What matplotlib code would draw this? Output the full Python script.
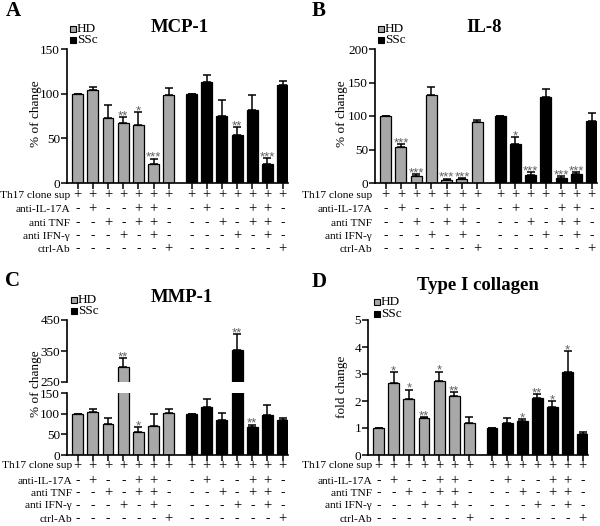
import numpy as np
import matplotlib.pyplot as plt
from matplotlib.patches import Rectangle
import matplotlib.transforms as mtransforms

plt.rcParams['font.family'] = ['Liberation Serif', 'DejaVu Serif']

# ---- data ----
row_labels = ['Th17 clone sup', 'anti-IL-17A', 'anti TNF', 'anti IFN-\u03b3', 'ctrl-Ab']
th17 = ['+', '+', '+', '+', '+', '+', '+']
il17 = ['-', '+', '-', '-', '+', '+', '-']
tnf = ['-', '-', '+', '-', '+', '+', '-']
ifng = ['-', '-', '-', '+', '-', '+', '-']
ctrl = ['-', '-', '-', '-', '-', '-', '+']

mcp_hd = [100, 104, 73, 67, 65, 21.6, 98]
mcp_hd_err = [0, 4, 14.5, 7, 14, 5.5, 8]
mcp_ssc = [100, 113.5, 75.5, 54, 82, 21.6, 110]
mcp_ssc_err = [0, 7, 17.5, 8.5, 16.5, 6.5, 4.5]
mcp_hd_sig = ['', '', '', '**', '*', '***', '']
mcp_ssc_sig = ['', '', '', '**', '', '***', '']

il8_hd = [100, 53.6, 10, 132, 5, 6, 91]
il8_hd_err = [0, 4, 3, 12, 1.5, 1.4, 3]
il8_ssc = [100, 58.6, 12.4, 128, 7.4, 14, 93]
il8_ssc_err = [0, 10, 3.6, 12, 2.6, 2.4, 11]
il8_hd_sig = ['', '***', '***', '', '***', '***', '']
il8_ssc_sig = ['', '*', '***', '', '***', '***', '']

mmp_hd = [100, 104, 75, 297, 55, 69, 101]
mmp_hd_err = [0, 7, 15, 29, 12.5, 29, 10]
mmp_ssc = [100, 116, 85, 353, 68, 96, 85]
mmp_ssc_err = [0, 19, 16, 52, 5, 24, 5]
mmp_hd_sig = ['', '', '', '**', '*', '', '']
mmp_ssc_sig = ['', '', '', '**', '**', '', '']

col_hd = [1.0, 2.68, 2.07, 1.36, 2.74, 2.18, 1.17]
col_hd_err = [0, 0.39, 0.35, 0.05, 0.34, 0.15, 0.22]
col_ssc = [1.0, 1.2, 1.25, 2.1, 1.78, 3.06, 0.79]
col_ssc_err = [0, 0.16, 0.08, 0.16, 0.21, 0.78, 0.05]
col_hd_sig = ['', '*', '*', '**', '*', '**', '']
col_ssc_sig = ['', '', '*', '**', '*', '*', '']

GREY = '#a8a8a8'
STAR = '#606060'
W, H = 600, 526
fig = plt.figure(figsize=(6, 5.26), dpi=100)

x_hd = np.arange(7)
x_ssc = np.arange(7) + 7.5
x_all = np.concatenate([x_hd, x_ssc])


def make_ax(left, right, top, bottom):
    return fig.add_axes([left / W, 1 - bottom / H, (right - left) / W, (bottom - top) / H])


def style_ax(ax, yticks, bottom=True):
    ax.set_xlim(-0.7, 13.85)
    for s in ['top', 'right']:
        ax.spines[s].set_visible(False)
    ax.spines['left'].set_linewidth(1.2)
    ax.spines['bottom'].set_linewidth(1.2)
    ax.set_yticks(yticks)
    ax.tick_params(axis='y', direction='out', length=4, width=1.1, labelsize=9.5, pad=1)
    if bottom:
        ax.set_xticks(x_all)
        ax.set_xticklabels([])
        ax.tick_params(axis='x', direction='out', length=4, width=1.1)
    else:
        ax.spines['bottom'].set_visible(False)
        ax.set_xticks([])


def draw_bars(ax, hd, hd_err, ssc, ssc_err):
    for xs, v, e, c in [(x_hd, hd, hd_err, GREY), (x_ssc, ssc, ssc_err, 'black')]:
        ax.bar(xs, v, width=0.72, color=c, edgecolor='black', linewidth=0.9, zorder=2)
        ax.errorbar(xs, v, yerr=[np.zeros(7), e], fmt='none', ecolor='black',
                    elinewidth=1.1, capsize=3, capthick=1.1, zorder=3)


def draw_stars(ax, xs, v, e, sig, ymax=None):
    for xi, vi, ei, s in zip(xs, v, e, sig):
        if not s:
            continue
        top = vi + ei
        if ymax is not None and top > ymax:
            continue
        ax.annotate(s, (xi, top), xytext=(0, -1.5), textcoords='offset points',
                    ha='center', va='baseline', fontsize=9.5, color=STAR, zorder=4,
                    family='Liberation Sans')


def draw_table(ax, label_x, rows_y):
    trans = mtransforms.blended_transform_factory(ax.transData, fig.transFigure)
    cols = [th17, il17, tnf, ifng, ctrl]
    for lab, col, py in zip(row_labels, cols, rows_y):
        fig.text(label_x / W, 1 - py / H, lab, ha='right', va='center', fontsize=8.2)
        for xs in (x_hd, x_ssc):
            for xi, sym in zip(xs, col):
                ax.text(xi, 1 - py / H, sym, transform=trans, ha='center', va='center',
                        fontsize=10.5 if sym == '+' else 9.5)


def draw_legend(px, py1, py2):
    for py, c, lab in [(py1, GREY, 'HD'), (py2, 'black', 'SSc')]:
        fig.add_artist(Rectangle((px / W, 1 - (py + 3) / H), 6 / W, 6 / H,
                                 transform=fig.transFigure, facecolor=c,
                                 edgecolor='black', linewidth=0.8))
        fig.text((px + 7) / W, 1 - py / H, lab, ha='left', va='center', fontsize=9.5)


def panel_text(letter, lx, ly, title, tx, ty):
    fig.text(lx / W, 1 - ly / H, letter, ha='center', va='center', fontsize=15, fontweight='bold')
    fig.text(tx / W, 1 - ty / H, title, ha='center', va='center', fontsize=13.5, fontweight='bold')


def ylabel(text, px, py):
    fig.text(px / W, 1 - py / H, text, rotation=90, ha='center', va='center', fontsize=9.5)


# ---- panel A ----
axA = make_ax(67, 288, 49, 183)
draw_bars(axA, mcp_hd, mcp_hd_err, mcp_ssc, mcp_ssc_err)
axA.set_ylim(0, 150)
style_ax(axA, [0, 50, 100, 150])
draw_stars(axA, x_hd, mcp_hd, mcp_hd_err, mcp_hd_sig)
draw_stars(axA, x_ssc, mcp_ssc, mcp_ssc_err, mcp_ssc_sig)
ylabel('% of change', 36, 114)
draw_table(axA, 70, [195, 209, 223, 236, 249])
draw_legend(70, 29, 40)
panel_text('A', 13, 11, 'MCP-1', 180, 27)

# ---- panel B ----
axB = make_ax(375, 597, 49, 183)
draw_bars(axB, il8_hd, il8_hd_err, il8_ssc, il8_ssc_err)
axB.set_ylim(0, 200)
style_ax(axB, [0, 50, 100, 150, 200])
draw_stars(axB, x_hd, il8_hd, il8_hd_err, il8_hd_sig)
draw_stars(axB, x_ssc, il8_ssc, il8_ssc_err, il8_ssc_sig)
ylabel('% of change', 342, 114)
draw_table(axB, 372, [195, 209, 223, 236, 249])
draw_legend(378, 29, 40)
panel_text('B', 319, 11, 'IL-8', 484, 27)

# ---- panel C (broken axis) ----
axC = make_ax(67, 288, 393, 455)
axCu = make_ax(67, 288, 320, 382)
for ax in (axC, axCu):
    draw_bars(ax, mmp_hd, mmp_hd_err, mmp_ssc, mmp_ssc_err)
axC.set_ylim(0, 150)
axCu.set_ylim(250, 450)
style_ax(axC, [0, 50, 100, 150])
style_ax(axCu, [250, 350, 450], bottom=False)
draw_stars(axC, x_hd, mmp_hd, mmp_hd_err, mmp_hd_sig, ymax=150)
draw_stars(axC, x_ssc, mmp_ssc, mmp_ssc_err, mmp_ssc_sig, ymax=150)
draw_stars(axCu, x_hd, mmp_hd, mmp_hd_err, mmp_hd_sig)
draw_stars(axCu, x_ssc, mmp_ssc, mmp_ssc_err, mmp_ssc_sig)
ylabel('% of change', 36, 384)
draw_table(axC, 72, [466, 481, 493, 506, 519])
draw_legend(71, 300, 311)
panel_text('C', 13, 281, 'MMP-1', 182, 297)

# ---- panel D ----
axD = make_ax(368, 588, 320, 455)
draw_bars(axD, col_hd, col_hd_err, col_ssc, col_ssc_err)
axD.set_ylim(0, 5)
style_ax(axD, [0, 1, 2, 3, 4, 5])
draw_stars(axD, x_hd, col_hd, col_hd_err, col_hd_sig)
draw_stars(axD, x_ssc, col_ssc, col_ssc_err, col_ssc_sig)
ylabel('fold change', 342, 387)
draw_table(axD, 372, [466, 481, 493, 506, 519])
draw_legend(374, 302, 314)
panel_text('D', 319, 282, 'Type I collagen', 478, 285)

fig.savefig('out.png', dpi=100)
